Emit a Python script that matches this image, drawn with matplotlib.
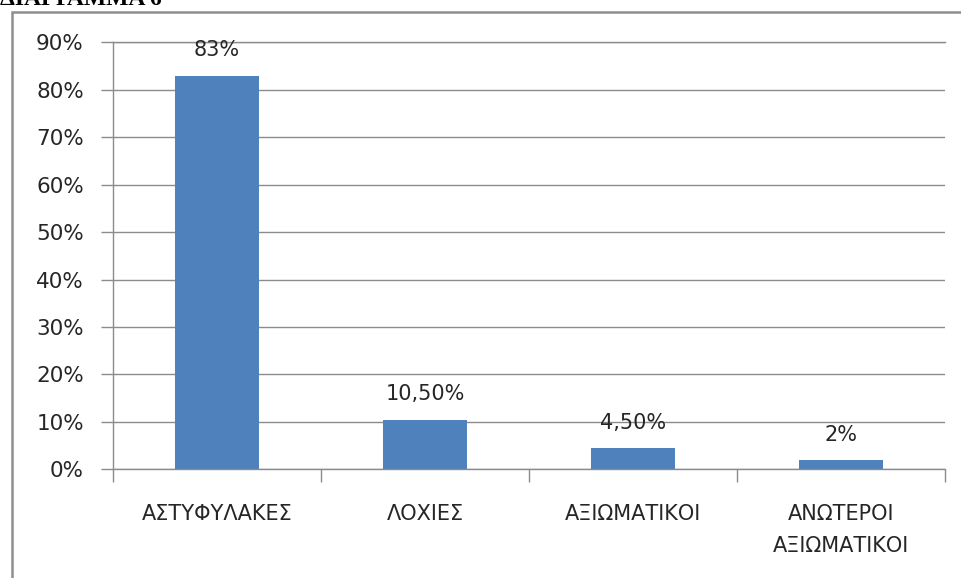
import matplotlib
matplotlib.use("Agg")
import matplotlib.pyplot as plt
from matplotlib.patches import Rectangle
from matplotlib.ticker import FixedLocator, PercentFormatter

categories = ["ΑΣΤΥΦΥΛΑΚΕΣ", "ΛΟΧΙΕΣ", "ΑΞΙΩΜΑΤΙΚΟΙ", "ΑΝΩΤΕΡΟΙ\nΑΞΙΩΜΑΤΙΚΟΙ"]
values = [0.83, 0.105, 0.045, 0.02]
value_labels = ["83%", "10,50%", "4,50%", "2%"]
yticks = [0.0, 0.1, 0.2, 0.3, 0.4, 0.5, 0.6, 0.7, 0.8, 0.9]
title = "ΔΙΑΓΡΑΜΜΑ 6"

W, H = 961, 578
fig = plt.figure(figsize=(W / 100, H / 100), dpi=100)
plt.rcParams['font.family'] = ['DejaVu Sans']

# outer frame
fig.patches.append(Rectangle((12 / W, -0.1), 1.2, 1 - 12 / H + 0.1, transform=fig.transFigure,
                             fill=False, edgecolor="#8e8e8e", linewidth=1.8))
fig.text(0.0, 1 - 5 / H, title, fontsize=17, fontweight="bold",
         family="Liberation Serif", va="baseline", ha="left")

ax = fig.add_axes([113 / W, 1 - 469.3 / H, (945 - 113) / W, (469.3 - 42.5) / H])
x = list(range(len(categories)))
ax.bar(x, values, width=0.4, color="#4F81BD", zorder=3)
ax.set_xlim(-0.5, len(categories) - 0.5)
ax.set_ylim(0, 0.9)

grid_c = "#8c8c8c"
txt_c = "#262626"
ax.set_yticks(yticks)
ax.yaxis.set_major_formatter(PercentFormatter(1.0, decimals=0))
ax.grid(axis="y", color=grid_c, linewidth=1, zorder=0)
ax.axhline(yticks[-1], color=grid_c, linewidth=1, clip_on=False, zorder=0)
for s in ["top", "right"]:
    ax.spines[s].set_visible(False)
for s in ["left", "bottom"]:
    ax.spines[s].set_color(grid_c)
    ax.spines[s].set_linewidth(1)
    ax.spines[s].set_zorder(4)

ax.set_xticks(x)
ax.set_xticklabels(categories, fontsize=15, color=txt_c, linespacing=1.75)
ax.tick_params(axis="x", which="major", length=0, pad=25)
ax.xaxis.set_minor_locator(FixedLocator([i - 0.5 for i in range(len(categories) + 1)]))
ax.tick_params(axis="x", which="minor", length=9, color=grid_c, width=1)
ax.tick_params(axis="y", length=9, color=grid_c, width=1, pad=12, labelsize=15.5, labelcolor=txt_c)

for xi, v, lab in zip(x, values, value_labels):
    ax.annotate(lab, (xi, v), xytext=(0, 11), textcoords="offset points",
                ha="center", va="bottom", fontsize=15, color=txt_c)

fig.savefig("out.png", dpi=100)
